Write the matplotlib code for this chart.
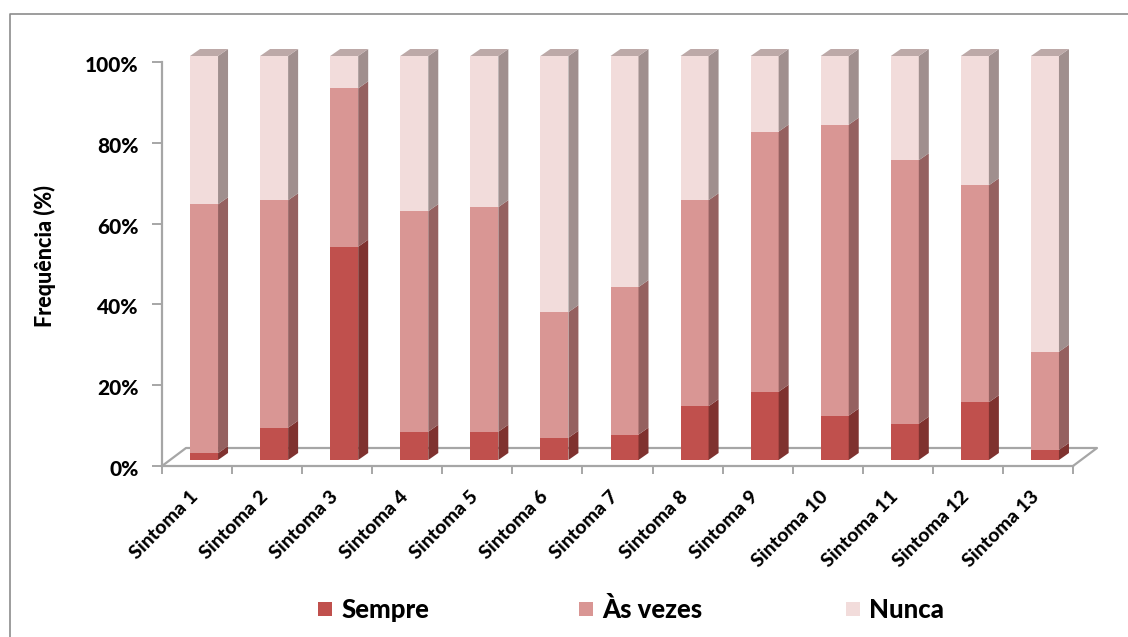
import matplotlib
matplotlib.use("Agg")
import matplotlib.pyplot as plt
from matplotlib.lines import Line2D
from matplotlib.patches import Polygon, Rectangle
from matplotlib.transforms import ScaledTranslation

categories = ["Sintoma %d" % i for i in range(1, 14)]
sempre = [1.7, 8.0, 52.8, 7.0, 7.0, 5.5, 6.3, 13.3, 16.9, 11.0, 9.0, 14.3, 2.5]
as_vezes = [61.6, 56.3, 39.2, 54.6, 55.6, 31.1, 36.5, 51.0, 64.4, 72.0, 65.2, 53.7, 24.3]
nunca = [36.7, 35.7, 8.0, 38.4, 37.4, 63.4, 57.2, 35.7, 18.7, 17.0, 25.8, 32.0, 73.2]
yticks = [0, 20, 40, 60, 80, 100]
series_names = ["Sempre", "Às vezes", "Nunca"]

front_colors = ["#c0504d", "#d99694", "#f2dcdb"]
side_colors = ["#7f322f", "#956160", "#a08f8e"]
top_color = "#bda9a8"

W, H = 1128, 637
plt.rcParams["font.family"] = ["Lato", "DejaVu Sans"]
plt.rcParams["font.weight"] = "bold"
heavy = 900

fig = plt.figure(figsize=(W / 100, H / 100), dpi=100)
# pixel box of the front plane of the chart
left, right, top, bottom = 162, 1073, 62, 466
ax = fig.add_axes([left / W, 1 - bottom / H, (right - left) / W, (bottom - top) / H])
ax.set_xlim(0, len(categories))
ax.set_ylim(0, 100)
ax.patch.set_alpha(0)

px_x = len(categories) / (right - left)
px_y = 100 / (bottom - top)
# depth of the bars and of the floor, in axis units
dx, dy = 10 * px_x, 7 * px_y
floor_dx, floor_dy = 24 * px_x, 18 * px_y
shift_x, shift_y = 7 * px_x, 6 * px_y
bar_w = 28 * px_x

line_col = "#a6a6a6"
for s in ["top", "right"]:
    ax.spines[s].set_visible(False)
for s in ["left", "bottom"]:
    ax.spines[s].set_color(line_col)
    ax.spines[s].set_linewidth(1.6)

# floor of the 3d box
n = len(categories)
ax.plot([0, floor_dx, n + floor_dx, n], [0, floor_dy, floor_dy, 0],
        color=line_col, lw=1.6, clip_on=False, zorder=1)

for i in range(n):
    x0 = i + 0.5 - bar_w / 2 + shift_x
    base = shift_y
    stack = [sempre[i], as_vezes[i], nunca[i]]
    for k, v in enumerate(stack):
        y1 = base + v
        ax.add_patch(Rectangle((x0, base), bar_w, v, fc=front_colors[k], ec="none",
                               clip_on=False, zorder=3))
        ax.add_patch(Polygon([(x0 + bar_w, base), (x0 + bar_w + dx, base + dy),
                              (x0 + bar_w + dx, y1 + dy), (x0 + bar_w, y1)],
                             fc=side_colors[k], ec="none", clip_on=False, zorder=3))
        base = y1
    ax.add_patch(Polygon([(x0, base), (x0 + bar_w, base), (x0 + bar_w + dx, base + dy),
                          (x0 + dx, base + dy)], fc=top_color, ec="none",
                         clip_on=False, zorder=3))

ax.set_yticks(yticks)
ax.set_yticklabels(["%d%%" % t for t in yticks], fontsize=15, fontweight=heavy)
ax.set_xticks(range(n + 1))
ax.set_xticklabels([])
ax.tick_params(axis="y", color=line_col, width=1.4, length=7, pad=10)
ax.tick_params(axis="x", color=line_col, width=1.4, length=6)

# nudge the percent labels down a little
nudge = ScaledTranslation(0, -2 / 100, fig.dpi_scale_trans)
for lab in ax.get_yticklabels():
    lab.set_transform(lab.get_transform() + nudge)

for i, name in enumerate(categories):
    ax.annotate(name, (i + 0.5, 0), xytext=(-8, -22), textcoords="offset pixels",
                rotation=45, ha="right", va="top", rotation_mode="anchor",
                fontsize=14, fontweight=heavy, annotation_clip=False)

fig.text(45 / W, 1 - 256 / H, "Frequência (%)", rotation=90, ha="center", va="center",
         fontsize=15.5, fontweight=heavy)

# legend row under the plot
for x_sw, x_txt, name, col in zip([318, 579, 846], [341, 602, 869], series_names, front_colors):
    fig.add_artist(Rectangle((x_sw / W, 1 - 616 / H), 14 / W, 14 / H, fc=col, ec="none",
                             transform=fig.transFigure))
    fig.text(x_txt / W, 1 - 610 / H, name, ha="left", va="center", fontsize=18.5,
             fontweight=heavy)

# chart frame: only the left and top edges fall inside the figure
fig.add_artist(Line2D([10 / W, 10 / W, 1], [0, 1 - 14 / H, 1 - 14 / H], color="#8c8c8c",
                      lw=1.2, transform=fig.transFigure))

fig.savefig("out.png", dpi=100)
